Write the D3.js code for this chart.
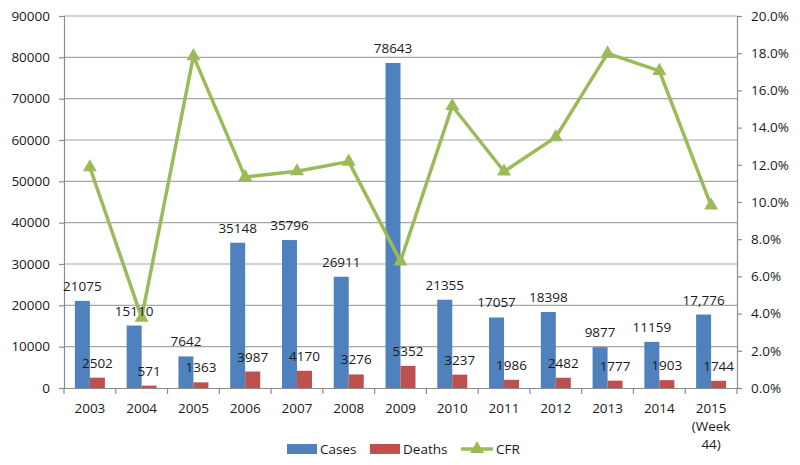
<!DOCTYPE html>
<html><head><meta charset="utf-8">
<script src="https://cdn.jsdelivr.net/npm/d3@7"></script>
<style>body{margin:0;background:#fff}svg{display:block}text{font-family:"Open Sans",sans-serif;fill:#1a1a1a}</style>
</head><body><svg id="c" width="800" height="465"></svg>
<script>
const years = ["2003","2004","2005","2006","2007","2008","2009","2010","2011","2012","2013","2014","2015\n(Week\n44)"];
const cases = [21075,15110,7642,35148,35796,26911,78643,21355,17057,18398,9877,11159,17776];
const caseLabels = ["21075","15110","7642","35148","35796","26911","78643","21355","17057","18398","9877","11159","17,776"];
const deaths = [2502,571,1363,3987,4170,3276,5352,3237,1986,2482,1777,1903,1744];
const cfr = [0.1187,0.0378,0.1784,0.1134,0.1165,0.1217,0.0681,0.1516,0.1164,0.1349,0.1799,0.1705,0.0981];
const leftTicks = [0,10000,20000,30000,40000,50000,60000,70000,80000,90000];
const rightTicks = [0,0.02,0.04,0.06,0.08,0.10,0.12,0.14,0.16,0.18,0.20];
const seriesNames = ["Cases","Deaths","CFR"];
const colors = {Cases:"#4F81BD",Deaths:"#C0504D",CFR:"#9BBB59"};

const FS = 13.5;
const svg = d3.select("#c");
const L=64,R=737,T=16,B=388;
const x = d3.scaleBand().domain(years).range([L,R]).paddingInner(0).paddingOuter(0);
const xs = d3.scaleBand().domain(["Cases","Deaths"]).range([0,x.bandwidth()]).paddingInner(0).paddingOuter(0.726);
const y = d3.scaleLinear().domain([0,90000]).range([B,T]);
const y2 = d3.scaleLinear().domain([0,0.2]).range([B,T]);

// gridlines
svg.append("g").selectAll("line").data(leftTicks.slice(1)).join("line")
  .attr("x1",L).attr("x2",R).attr("y1",d=>y(d)).attr("y2",d=>y(d))
  .attr("stroke","#a6a6a6").attr("stroke-width",1.2);

const gl = svg.append("g").attr("transform",`translate(${L},0)`)
  .call(d3.axisLeft(y).tickValues(leftTicks).tickFormat(d3.format("d")).tickSize(5).tickPadding(9));
const gr = svg.append("g").attr("transform",`translate(${R},0)`)
  .call(d3.axisRight(y2).tickValues(rightTicks).tickFormat(d3.format(".1%")).tickSize(5).tickPadding(9));
const gb = svg.append("g").attr("transform",`translate(0,${B})`)
  .call(d3.axisBottom(x).tickSize(0).tickFormat(""));
[gl,gr,gb].forEach(g=>{
  g.select(".domain").attr("stroke","#8c8c8c").attr("stroke-width",1.2);
  g.selectAll(".tick line").attr("stroke","#8c8c8c").attr("stroke-width",1.2);
  g.selectAll(".tick text").attr("font-size",FS).attr("font-family","'Open Sans',sans-serif").attr("fill","#1a1a1a");
});
const bounds = years.map(d=>x(d)).concat([R]);
svg.append("g").selectAll("line").data(bounds).join("line")
  .attr("x1",d=>d).attr("x2",d=>d).attr("y1",B).attr("y2",B+6)
  .attr("stroke","#8c8c8c").attr("stroke-width",1.2);
const xl = svg.append("g").selectAll("text").data(years).join("text")
  .attr("x",d=>x(d)+x.bandwidth()/2).attr("y",B+25).attr("text-anchor","middle").attr("font-size",FS);
xl.each(function(d){
  const lines=d.split("\n");
  d3.select(this).selectAll("tspan").data(lines).join("tspan")
    .attr("x",x(d)+x.bandwidth()/2).attr("dy",(l,i)=>i===0?0:18).text(l=>l);
});

const gbars = svg.append("g");
gbars.selectAll("rect.c").data(cases).join("rect").attr("class","c")
  .attr("x",(d,i)=>x(years[i])+xs("Cases")).attr("width",xs.bandwidth())
  .attr("y",d=>y(d)).attr("height",d=>B-y(d)).attr("fill",colors.Cases);
gbars.selectAll("rect.d").data(deaths).join("rect").attr("class","d")
  .attr("x",(d,i)=>x(years[i])+xs("Deaths")).attr("width",xs.bandwidth())
  .attr("y",d=>y(d)).attr("height",d=>B-y(d)).attr("fill",colors.Deaths);

const cx = i=>x(years[i])+x.bandwidth()/2;
const line = d3.line().x((d,i)=>cx(i)).y(d=>y2(d));
svg.append("path").datum(cfr).attr("d",line).attr("fill","none")
  .attr("stroke",colors.CFR).attr("stroke-width",3.5).attr("stroke-linejoin","round");
const tri = d3.symbol().type(d3.symbolTriangle).size(85);
svg.append("g").selectAll("path").data(cfr).join("path")
  .attr("d",tri).attr("transform",(d,i)=>`translate(${cx(i)},${y2(d)})`).attr("fill",colors.CFR);

svg.append("g").selectAll("text").data(cases).join("text")
  .attr("x",(d,i)=>x(years[i])+xs("Cases")+xs.bandwidth()/2).attr("y",d=>y(d)-10)
  .attr("text-anchor","middle").attr("font-size",FS).text((d,i)=>caseLabels[i]);
svg.append("g").selectAll("text").data(deaths).join("text")
  .attr("x",(d,i)=>x(years[i])+xs("Deaths")+xs.bandwidth()/2).attr("y",d=>y(d)-10)
  .attr("text-anchor","middle").attr("font-size",FS).text(d=>d);

const lg = svg.append("g").attr("transform","translate(0,449)");
const lx = [287,370,461];
seriesNames.forEach((n,i)=>{
  const g = lg.append("g").attr("transform",`translate(${lx[i]},0)`);
  if(n==="CFR"){
    g.append("line").attr("x1",0).attr("x2",32).attr("y1",0).attr("y2",0).attr("stroke",colors.CFR).attr("stroke-width",3.5);
    g.append("path").attr("d",tri).attr("transform","translate(16,0)").attr("fill",colors.CFR);
  } else {
    g.append("rect").attr("x",0).attr("y",-5).attr("width",30).attr("height",10).attr("fill",colors[n]);
  }
  g.append("text").attr("x",n==="CFR"?35:33).attr("y",5).attr("font-size",FS).text(n);
});
</script></body></html>
